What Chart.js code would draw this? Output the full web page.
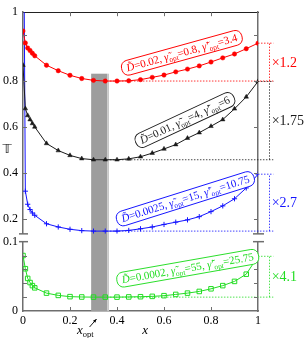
<!DOCTYPE html>
<html>
<head>
<meta charset="utf-8">
<script src="https://cdn.jsdelivr.net/npm/chart.js@4.4.1/dist/chart.umd.min.js"></script>
<style>
  html, body { margin: 0; padding: 0; background: #fff; }
  #wrap { width: 305px; height: 338px; }
</style>
</head>
<body>
<div id="wrap"><canvas id="chart"></canvas></div>
<script>
// sampled positions along x
const xs = [0, 0.01, 0.02, 0.03, 0.04, 0.05, 0.1, 0.15, 0.2, 0.25, 0.3, 0.35, 0.4, 0.45, 0.5,
            0.55, 0.6, 0.65, 0.7, 0.75, 0.8, 0.85, 0.9, 0.95, 1];

// T(x) for the four D values
const redT   = [1.018, 0.966, 0.944, 0.933, 0.921, 0.910, 0.869, 0.845, 0.825, 0.811, 0.803, 0.800, 0.800, 0.801, 0.806,
                0.816, 0.826, 0.840, 0.852, 0.866, 0.883, 0.901, 0.918, 0.941, 0.965];
const blackT = [0.869, 0.680, 0.650, 0.632, 0.615, 0.600, 0.528, 0.497, 0.476, 0.462, 0.457, 0.457, 0.457, 0.461, 0.470,
                0.486, 0.504, 0.523, 0.551, 0.575, 0.603, 0.632, 0.679, 0.731, 0.798];
const blueT  = [2.0, 0.320, 0.263, 0.240, 0.225, 0.215, 0.178, 0.164, 0.154, 0.148, 0.146, 0.146, 0.146, 0.149, 0.156,
                0.164, 0.175, 0.185, 0.195, 0.209, 0.231, 0.256, 0.287, 0.334, 0.394];
const greenT = [0.080, 0.061, 0.047, 0.041, 0.0366, 0.0334, 0.0258, 0.0225, 0.0207, 0.0202, 0.0200, 0.0200, 0.0200, 0.0203, 0.0206,
                0.0211, 0.0221, 0.0239, 0.0258, 0.0282, 0.0320, 0.0366, 0.0427, 0.0531, 0.0789];

// labels
const dVals      = ['0.02', '0.01', '0.0025', '0.0002'];
const gammaOpt   = ['0.8', '4', '15', '55'];
const gammaPOpt  = ['3.4', '6', '10.75', '25.75'];
const ratioLabels = ['\u00d71.2', '\u00d71.75', '\u00d72.7', '\u00d74.1'];

// axis ticks
const xTickVals   = [0.2, 0.4, 0.6, 0.8];
const topTickVals = [0.2, 0.4, 0.6, 0.8, 1, 1.1];
const topTickText = ['0.2', '0.4', '0.6', '0.8', '', '1'];
const botTickVals = [0, 0.02, 0.04, 0.06, 0.08, 0.1];
const botTickText = ['0', '', '', '', '', '0.1'];

// x_opt band
const bandRange = [0.29, 0.358, 0.366];
const bandTop = 0.832;

// where the boxed captions sit (x, y on its own axis, angle)
const tagX = [0.676, 0.689, 0.691, 0.701];
const tagY = [0.923, 0.630, 0.287, 0.0617];
const tagAngle = [-15.5, -25, -17.5, -10];

const colors = ['#ff0000', '#1a1a1a', '#1414ff', '#22dd22'];
const axisIds = ['yTop', 'yTop', 'yTop', 'yBot'];
const series = [redT, blackT, blueT, greenT];
const levelStart = 0.37, levelEnd = 1.065, arrowX = 1.049;

const axisColor = '#6e6e6e';
const serif = '"Liberation Serif", "DejaVu Serif", serif';

function pts(vals) { return xs.map((x, i) => ({ x: x, y: vals[i] })); }

const curveStyle = [
  { pointStyle: 'circle', pointRadius: 2.2, fill: true },
  { pointStyle: 'triangle', pointRadius: 2.6, fill: true },
  { pointStyle: 'cross', pointRadius: 2.6, fill: false },
  { pointStyle: 'rect', pointRadius: 3.2, fill: false }
];

const datasets = [];
series.forEach((s, i) => {
  datasets.push({
    data: pts(s),
    yAxisID: axisIds[i],
    borderColor: colors[i],
    borderWidth: 1,
    pointStyle: curveStyle[i].pointStyle,
    pointRadius: curveStyle[i].pointRadius,
    pointBackgroundColor: curveStyle[i].fill ? colors[i] : 'rgba(0,0,0,0)',
    pointBorderColor: colors[i],
    pointBorderWidth: curveStyle[i].fill ? 0.5 : 1,
    tension: 0
  });
});
// dotted guide lines and arrows
series.forEach((s, i) => {
  const lo = Math.min(...s), hi = s[s.length - 1];
  const common = { yAxisID: axisIds[i], borderColor: colors[i], borderWidth: 0.8, borderDash: [1.5, 1.5],
                   pointRadius: 0, clip: false };
  datasets.push(Object.assign({ data: [{ x: levelStart, y: lo }, { x: levelEnd, y: lo }] }, common));
  datasets.push(Object.assign({ data: [{ x: 1, y: hi }, { x: levelEnd, y: hi }] }, common));
  datasets.push(Object.assign({}, common, {
    data: [{ x: arrowX, y: lo }, { x: arrowX, y: hi }],
    pointRadius: [0, 2.6], pointStyle: 'triangle',
    pointBackgroundColor: '#000', pointBorderColor: '#000', pointBorderWidth: 0
  }));
});

function line(ctx, x1, y1, x2, y2) {
  ctx.beginPath(); ctx.moveTo(x1, y1); ctx.lineTo(x2, y2); ctx.stroke();
}

function pill(ctx, x, y, w, h, r) {
  ctx.beginPath();
  ctx.moveTo(x + r, y);
  ctx.arcTo(x + w, y, x + w, y + h, r);
  ctx.arcTo(x + w, y + h, x, y + h, r);
  ctx.arcTo(x, y + h, x, y, r);
  ctx.arcTo(x, y, x + w, y, r);
  ctx.closePath();
}

function fontFor(style) {
  if (style === 'i') return 'italic 11px ' + serif;
  if (style === 's') return '7.5px ' + serif;
  return '11px ' + serif;
}

function drawTag(ctx, cx, cy, angle, i) {
  const parts = [
    ['D\u0303', 'i'], ['=', 'r'], [dVals[i] + ', ', 'r'],
    ['\u03b3\u0303', 'i'], ['opt', 's'], ['=', 'r'], [gammaOpt[i] + ', ', 'r'],
    ['\u03b3\u0303\u2032', 'i'], ['opt', 's'], ['=', 'r'], [gammaPOpt[i], 'r']
  ];
  ctx.save();
  ctx.translate(cx, cy);
  ctx.rotate(angle * Math.PI / 180);
  let w = 0;
  parts.forEach(p => { ctx.font = fontFor(p[1]); w += ctx.measureText(p[0]).width; });
  const h = 15, pad = 5;
  pill(ctx, -w / 2 - pad, -h / 2, w + 2 * pad, h, 6.5);
  ctx.fillStyle = '#fff'; ctx.fill();
  ctx.strokeStyle = colors[i]; ctx.lineWidth = 0.9; ctx.stroke();
  ctx.fillStyle = colors[i];
  ctx.textBaseline = 'alphabetic';
  let x = -w / 2;
  parts.forEach(p => {
    ctx.font = fontFor(p[1]);
    ctx.fillText(p[0], x, p[1] === 's' ? 6 : 3.5);
    x += ctx.measureText(p[0]).width;
  });
  ctx.restore();
}

const deco = {
  id: 'deco',
  beforeDatasetsDraw(chart) {
    const { ctx, scales: { x, yTop, yBot } } = chart;
    const l = x.getPixelForValue(bandRange[0]);
    const m = x.getPixelForValue(bandRange[1]);
    const r = x.getPixelForValue(bandRange[2]);
    const t = yTop.getPixelForValue(bandTop), b = yBot.getPixelForValue(0);
    ctx.save();
    ctx.fillStyle = '#9d9d9d'; ctx.fillRect(l, t, m - l, b - t);
    ctx.fillStyle = '#c8c8c8'; ctx.fillRect(m, t, r - m, b - t);
    ctx.restore();
  },
  afterDraw(chart) {
    const { ctx, chartArea: a, scales: { x, yTop, yBot } } = chart;
    ctx.save();
    // inward tick marks
    ctx.strokeStyle = axisColor; ctx.lineWidth = 1;
    xTickVals.forEach(v => {
      const px = Math.round(x.getPixelForValue(v)) + 0.5;
      line(ctx, px, a.bottom, px, a.bottom - 4);
      line(ctx, px, a.top, px, a.top + 4);
    });
    topTickVals.slice(0, 5).forEach(v => {
      const py = Math.round(yTop.getPixelForValue(v)) + 0.5;
      line(ctx, a.left, py, a.left + 4, py);
      line(ctx, a.right, py, a.right - 4, py);
    });
    botTickVals.slice(1, 5).forEach(v => {
      const py = Math.round(yBot.getPixelForValue(v)) + 0.5;
      line(ctx, a.left, py, a.left + 4, py);
      line(ctx, a.right, py, a.right - 4, py);
    });
    // axis break caps
    ctx.lineWidth = 1.5;
    [yTop.bottom, yBot.top].forEach(py => {
      line(ctx, a.left - 4, py, a.left + 5, py);
      line(ctx, a.right - 5, py, a.right + 6, py);
    });
    // ratio labels
    ctx.font = '14px ' + serif;
    ctx.textAlign = 'left'; ctx.textBaseline = 'middle';
    series.forEach((s, i) => {
      const sc = chart.scales[axisIds[i]];
      const py = (sc.getPixelForValue(Math.min(...s)) + sc.getPixelForValue(s[s.length - 1])) / 2;
      ctx.fillStyle = colors[i];
      ctx.fillText(ratioLabels[i], x.getPixelForValue(1.058), py + 1);
    });
    // boxed captions
    tagX.forEach((tx, i) => {
      drawTag(ctx, x.getPixelForValue(tx), chart.scales[axisIds[i]].getPixelForValue(tagY[i]), tagAngle[i], i);
    });
    // axis titles
    ctx.fillStyle = '#000';
    ctx.font = '13px "DejaVu Sans", "DejaVu Serif", "Noto Sans", sans-serif';
    ctx.textAlign = 'center';
    ctx.fillText('\u{1D54B}', 7, yTop.getPixelForValue(0.5));
    ctx.font = 'italic 13px ' + serif;
    ctx.textBaseline = 'alphabetic';
    ctx.fillText('x', x.getPixelForValue(0.52), a.bottom + 23);
    // x_opt with arrow
    const ox = x.getPixelForValue(0.23);
    ctx.textAlign = 'left';
    ctx.font = 'italic 13px ' + serif;
    ctx.fillText('x', ox, a.bottom + 23);
    const xw = ctx.measureText('x').width;
    ctx.font = '8.5px ' + serif;
    ctx.fillText('opt', ox + xw, a.bottom + 26);
    const tipX = x.getPixelForValue(0.313), tipY = a.bottom + 8;
    const tailX = tipX - 7, tailY = tipY + 8;
    ctx.strokeStyle = '#000'; ctx.lineWidth = 0.9;
    line(ctx, tailX, tailY, tipX, tipY);
    const ang = Math.atan2(tipY - tailY, tipX - tailX);
    ctx.beginPath();
    ctx.moveTo(tipX, tipY);
    ctx.lineTo(tipX - 4 * Math.cos(ang - 0.4), tipY - 4 * Math.sin(ang - 0.4));
    ctx.lineTo(tipX - 4 * Math.cos(ang + 0.4), tipY - 4 * Math.sin(ang + 0.4));
    ctx.closePath(); ctx.fill();
    ctx.restore();
  }
};

const hidden = { display: false, drawTicks: false };
const tickFont = { family: serif, size: 12 };

function leftAxis(extra) {
  return Object.assign({
    type: 'linear', position: 'left', stack: 'left',
    grid: hidden,
    border: { color: axisColor, width: 1.5 },
    afterFit: s => { s.width = 23; }
  }, extra);
}
function rightAxis(extra) {
  return Object.assign({
    type: 'linear', position: 'right', stack: 'right',
    grid: hidden,
    ticks: { display: false },
    border: { color: axisColor, width: 1.5 },
    afterFit: s => { s.width = 47; }
  }, extra);
}

new Chart(document.getElementById('chart'), {
  type: 'line',
  data: { datasets: datasets },
  options: {
    responsive: true,
    maintainAspectRatio: false,
    animation: false,
    layout: { padding: 0 },
    plugins: { legend: { display: false }, tooltip: { enabled: false } },
    scales: {
      x: {
        type: 'linear', position: 'bottom', min: 0, max: 1,
        grid: hidden,
        border: { color: axisColor, width: 1.5 },
        ticks: { stepSize: 0.2, padding: 3, color: '#000', font: tickFont, maxRotation: 0,
                 callback: v => String(+v.toFixed(2)) },
        afterFit: s => { s.height = 27; }
      },
      xt: {
        type: 'linear', position: 'top', min: 0, max: 1,
        grid: hidden, ticks: { display: false },
        border: { color: '#222', width: 1 },
        afterFit: s => { s.height = 5; }
      },
      yBot: leftAxis({
        stackWeight: 71, weight: 0, min: 0, max: 0.1,
        afterBuildTicks: s => { s.ticks = botTickVals.map(v => ({ value: v })); },
        ticks: { autoSkip: false, padding: 5, color: '#000', font: tickFont,
                 callback: (v) => botTickText[botTickVals.indexOf(v)] }
      }),
      yGap: leftAxis({
        stackWeight: 8, weight: 1, min: 0, max: 1,
        ticks: { display: false }, border: { display: false }
      }),
      yTop: leftAxis({
        stackWeight: 227, weight: 2, min: 0.134, max: 1.1,
        afterBuildTicks: s => { s.ticks = topTickVals.map(v => ({ value: v })); },
        ticks: { autoSkip: false, padding: 5, color: '#000', font: tickFont,
                 callback: (v) => topTickText[topTickVals.indexOf(v)] }
      }),
      yTopR: rightAxis({ stackWeight: 227, weight: 0, min: 0.134, max: 1.1 }),
      yGapR: rightAxis({ stackWeight: 8, weight: 1, min: 0, max: 1, border: { display: false } }),
      yBotR: rightAxis({ stackWeight: 71, weight: 2, min: 0, max: 0.1 })
    }
  },
  plugins: [deco]
});
</script>
</body>
</html>
